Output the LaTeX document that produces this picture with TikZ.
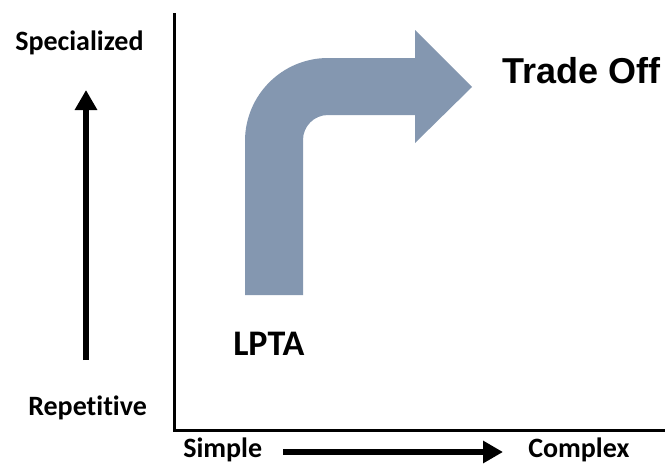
\documentclass[tikz,border=0pt]{standalone}
\usepackage{fontspec}
\setmainfont{Carlito}[Ligatures=NoCommon]
\newfontfamily\headfont{Liberation Sans}
\usetikzlibrary{arrows.meta}

\definecolor{slate}{HTML}{8497B0}

\begin{document}
\begin{tikzpicture}[
    x=0.75pt, y=-0.75pt,
    axis/.style={line width=2.25pt},
    trend/.style={line width=4.5pt, -{Triangle[length=15pt, width=16pt]}},
    lbl/.style={font=\fontsize{21}{21}\selectfont\bfseries, inner sep=0pt, anchor=base west},
  ]
  \useasboundingbox (0,0) rectangle (667,464);

  % axes
  \coordinate (ytop) at (174,13);
  \coordinate (orig) at (174,430);
  \coordinate (xend) at (665,430);
  \draw[axis] (ytop) -- (orig) -- (xend);

  % axis labels
  \node[lbl] (spec) at (15,50) {Specialized};
  \node[lbl] (rep) at (28,415) {Repetitive};
  \node[lbl] (simple) at (183,457) {Simple};
  \node[lbl] (complex) at (528,457) {Complex};

  % direction arrows
  \coordinate (vlow) at (86,360);
  \coordinate (vhigh) at (86,90);
  \draw[trend] (vlow) -- (vhigh);
  \coordinate (hlow) at (283,452);
  \coordinate (hhigh) at (503,452);
  \draw[trend] (hlow) -- (hhigh);

  % bent arrow
  \fill[slate] (245,295) -- (245,141) arc[start angle=180, end angle=270, radius=83]
    -- (415,58) -- (415,30) -- (472,87) -- (415,143) -- (415,115) -- (328,115)
    arc[start angle=270, end angle=180, radius=25] -- (303,295) -- cycle;

  \node[inner sep=0pt, anchor=base west, font=\fontsize{27}{27}\selectfont\bfseries] (lpta) at (233,355) {LPTA};
  \node[inner sep=0pt, anchor=base west, font=\headfont\fontsize{27}{27}\selectfont\bfseries] (trade) at (502,83) {Trade Off};
\end{tikzpicture}
\end{document}
